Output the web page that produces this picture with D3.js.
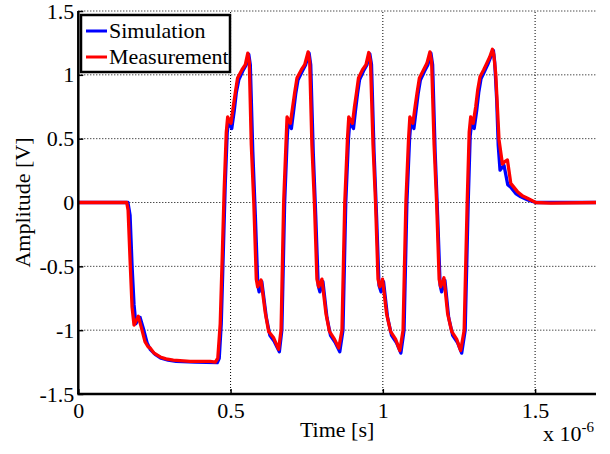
<!DOCTYPE html>
<html>
<head>
<meta charset="utf-8">
<script src="https://cdn.jsdelivr.net/npm/d3@7"></script>
<style>
  body { margin: 0; background: #fff; }
  svg text { font-family: "Liberation Serif", "Times New Roman", serif; fill: #000; }
</style>
</head>
<body>
<svg id="grafico"></svg>
<script>
// dados: [tempo em us, amplitude em V]
const simulacao = [
  [0, 0], [0.163, 0], [0.170, -0.1], [0.1766, -0.5], [0.183, -0.8], [0.189, -0.95],
  [0.1964, -0.92], [0.2029, -0.9], [0.2128, -0.98], [0.226, -1.1], [0.2359, -1.15],
  [0.2523, -1.19], [0.272, -1.22], [0.2951, -1.235], [0.3214, -1.245], [0.3839, -1.25],
  [0.4563, -1.255], [0.4628, -1.22], [0.4694, -0.95], [0.476, -0.4], [0.4826, 0.15],
  [0.4891, 0.55], [0.4934, 0.64], [0.5039, 0.58], [0.5122, 0.72], [0.5188, 0.86],
  [0.527, 0.96], [0.5401, 1.03], [0.5516, 1.08], [0.5599, 1.16], [0.5648, 1.08],
  [0.573, 0.4], [0.5813, -0.1], [0.5895, -0.65], [0.5938, -0.7], [0.6026, -0.62],
  [0.6174, -0.9], [0.6289, -1.04], [0.6438, -1.09], [0.6602, -1.17], [0.6684, -1.0],
  [0.6776, 0.0], [0.6859, 0.5], [0.6891, 0.63], [0.6997, 0.58], [0.7072, 0.72],
  [0.7138, 0.85], [0.7214, 0.96], [0.7359, 1.03], [0.7467, 1.08], [0.7579, 1.17],
  [0.7632, 1.08], [0.7714, 0.4], [0.7796, -0.1], [0.7878, -0.65], [0.7934, -0.7],
  [0.8033, -0.62], [0.8164, -0.9], [0.828, -1.04], [0.8444, -1.1], [0.8586, -1.17],
  [0.8691, -1.0], [0.8783, 0.0], [0.8872, 0.5], [0.8914, 0.63], [0.9036, 0.58],
  [0.9102, 0.72], [0.9168, 0.85], [0.9234, 0.96], [0.9365, 1.03], [0.948, 1.08],
  [0.9572, 1.165], [0.9628, 1.08], [0.9711, 0.4], [0.9793, -0.1], [0.9875, -0.65],
  [0.9941, -0.7], [1.0023, -0.62], [1.0155, -0.9], [1.0286, -1.04], [1.0451, -1.1],
  [1.0592, -1.18], [1.0697, -1.0], [1.079, 0.0], [1.0878, 0.5], [1.0921, 0.63],
  [1.102, 0.58], [1.1092, 0.72], [1.1158, 0.85], [1.1234, 0.96], [1.1372, 1.03],
  [1.148, 1.08], [1.1579, 1.17], [1.1635, 1.08], [1.1717, 0.4], [1.1799, -0.1],
  [1.1882, -0.65], [1.1931, -0.7], [1.2039, -0.61], [1.2161, -0.9], [1.2293, -1.04],
  [1.2457, -1.1], [1.2589, -1.18], [1.2704, -1.0], [1.2803, 0.0], [1.2868, 0.52],
  [1.2918, 0.63], [1.3, 0.58], [1.3082, 0.72], [1.3148, 0.86], [1.3224, 0.97],
  [1.3345, 1.03], [1.3444, 1.08], [1.3543, 1.14], [1.3632, 1.19], [1.3674, 1.1],
  [1.374, 0.8], [1.3789, 0.45], [1.3849, 0.254], [1.3905, 0.27], [1.398, 0.29],
  [1.4102, 0.14], [1.4201, 0.12], [1.4365, 0.07], [1.453, 0.045], [1.476, 0.02],
  [1.5023, 0.0], [1.7, 0.0]
];

const medicao = [
  [0, 0], [0.159, 0], [0.1635, -0.06], [0.170, -0.45], [0.1766, -0.82], [0.183, -0.96],
  [0.189, -0.93], [0.197, -0.89], [0.206, -0.97], [0.219, -1.09], [0.229, -1.13],
  [0.236, -1.14], [0.249, -1.18], [0.269, -1.21], [0.288, -1.225], [0.312, -1.235],
  [0.367, -1.245], [0.433, -1.245], [0.450, -1.25], [0.458, -1.22], [0.466, -0.95],
  [0.4727, -0.42], [0.479, 0.1], [0.4859, 0.55], [0.4905, 0.67], [0.5013, 0.62],
  [0.5089, 0.75], [0.5155, 0.86], [0.523, 0.975], [0.5375, 1.04], [0.5484, 1.08],
  [0.5566, 1.17], [0.5615, 1.1], [0.5681, 0.45], [0.5763, 0.0], [0.5845, -0.6],
  [0.5888, -0.66], [0.6, -0.607], [0.6141, -0.866], [0.625, -1.01], [0.6414, -1.06],
  [0.6579, -1.15], [0.6658, -1.0], [0.6743, 0.0], [0.6826, 0.5], [0.6855, 0.67],
  [0.6964, 0.62], [0.704, 0.75], [0.7105, 0.86], [0.7181, 0.975], [0.7326, 1.04],
  [0.7434, 1.08], [0.7546, 1.18], [0.7599, 1.1], [0.7671, 0.45], [0.7753, 0.0],
  [0.7836, -0.6], [0.7895, -0.66], [0.8, -0.6], [0.8132, -0.87], [0.8247, -1.01],
  [0.8411, -1.07], [0.8553, -1.14], [0.8658, -1.0], [0.875, 0.0], [0.8839, 0.5],
  [0.8882, 0.67], [0.9003, 0.62], [0.9069, 0.75], [0.9135, 0.86], [0.9201, 0.975],
  [0.9332, 1.04], [0.9447, 1.08], [0.9539, 1.175], [0.9595, 1.1], [0.9678, 0.45],
  [0.976, 0.0], [0.9842, -0.6], [0.9901, -0.66], [0.999, -0.6], [1.0122, -0.87],
  [1.0253, -1.01], [1.0418, -1.07], [1.0559, -1.16], [1.0664, -1.0], [1.0757, 0.0],
  [1.0845, 0.5], [1.0888, 0.67], [1.0987, 0.62], [1.1059, 0.75], [1.1125, 0.86],
  [1.1201, 0.975], [1.1339, 1.04], [1.1447, 1.09], [1.1546, 1.18], [1.1602, 1.1],
  [1.1684, 0.45], [1.1766, 0.0], [1.1849, -0.6], [1.1898, -0.66], [1.2007, -0.59],
  [1.2128, -0.87], [1.226, -1.01], [1.2424, -1.07], [1.2556, -1.16], [1.2671, -1.0],
  [1.277, 0.0], [1.2836, 0.55], [1.2885, 0.67], [1.2967, 0.62], [1.305, 0.75],
  [1.3115, 0.88], [1.3191, 0.985], [1.3313, 1.04], [1.3411, 1.09], [1.351, 1.14],
  [1.3599, 1.2], [1.3641, 1.16], [1.3707, 1.01], [1.3816, 0.49], [1.3928, 0.3],
  [1.4003, 0.32], [1.4092, 0.333], [1.4201, 0.15], [1.4421, 0.085], [1.4595, 0.05],
  [1.475, 0.033], [1.5023, 0.0], [1.5516, -0.005], [1.7, 0.0]
];

const series = ["Simulation", "Measurement"];
const cores = ["#0000ff", "#ff0000"];

const x_ticks = [0, 0.5, 1, 1.5];              // em 10^-6 s
const y_ticks = [-1.5, -1, -0.5, 0, 0.5, 1, 1.5];
const x_dominio = [0, 1.7];
const y_dominio = [-1.5, 1.5];

// dimensoes
const w = 610, h = 454;
const PAD = { left: 78.3, right: 14, top: 11, bottom: 60 };

const $svg = d3.select("#grafico")
  .attr("width", w)
  .attr("height", h);

const scale_x = d3.scaleLinear()
  .domain(x_dominio)
  .range([PAD.left, w - PAD.right]);

const scale_y = d3.scaleLinear()
  .domain(y_dominio)
  .range([h - PAD.bottom, PAD.top]);

const FONTE = 22;

// grade pontilhada
$svg.append("g")
  .selectAll("line.grade-y")
  .data(y_ticks.filter(d => d > y_dominio[0]))
  .enter()
  .append("line")
  .attr("x1", scale_x(x_dominio[0]))
  .attr("x2", scale_x(x_dominio[1]))
  .attr("y1", d => scale_y(d))
  .attr("y2", d => scale_y(d))
  .attr("stroke", "#000")
  .attr("stroke-width", 1)
  .attr("stroke-dasharray", "1,2");

$svg.append("g")
  .selectAll("line.grade-x")
  .data(x_ticks.filter(d => d > x_dominio[0]))
  .enter()
  .append("line")
  .attr("x1", d => scale_x(d))
  .attr("x2", d => scale_x(d))
  .attr("y1", scale_y(y_dominio[0]))
  .attr("y2", scale_y(y_dominio[1]))
  .attr("stroke", "#000")
  .attr("stroke-width", 1)
  .attr("stroke-dasharray", "1,2");

// eixos
const eixo_x = d3.axisBottom(scale_x)
  .tickValues(x_ticks)
  .tickFormat(d => String(d))
  .tickSize(-5)
  .tickPadding(8);

const eixo_y = d3.axisLeft(scale_y)
  .tickValues(y_ticks)
  .tickFormat(d => String(d))
  .tickSize(-5)
  .tickPadding(4);

const $eixo_x = $svg.append("g")
  .attr("transform", `translate(0,${scale_y(y_dominio[0])})`)
  .call(eixo_x);

const $eixo_y = $svg.append("g")
  .attr("transform", `translate(${scale_x(x_dominio[0])},0)`)
  .call(eixo_y);

[$eixo_x, $eixo_y].forEach($e => {
  $e.select(".domain").remove();
  $e.selectAll(".tick line").attr("stroke", "#000").attr("stroke-width", 1.5);
  $e.selectAll(".tick text")
    .style("font-family", '"Liberation Serif", serif')
    .style("font-size", FONTE + "px")
    .attr("fill", "#000");
});

// linhas das series
$svg.append("clipPath").attr("id", "area")
  .append("rect")
  .attr("x", scale_x(x_dominio[0]))
  .attr("y", scale_y(y_dominio[1]) - 2)
  .attr("width", scale_x(x_dominio[1]) - scale_x(x_dominio[0]))
  .attr("height", scale_y(y_dominio[0]) - scale_y(y_dominio[1]) + 2);

const linha = d3.line()
  .x(d => scale_x(d[0]))
  .y(d => scale_y(d[1]));

$svg.append("g")
  .attr("clip-path", "url(#area)")
  .selectAll("path")
  .data([simulacao, medicao])
  .enter()
  .append("path")
  .attr("d", linha)
  .attr("fill", "none")
  .attr("stroke", (d, i) => cores[i])
  .attr("stroke-width", 3.3)
  .attr("stroke-linejoin", "round");

// eixo esquerdo e de baixo (sem caixa)
$svg.append("line")
  .attr("x1", scale_x(x_dominio[0]))
  .attr("x2", scale_x(x_dominio[0]))
  .attr("y1", scale_y(y_dominio[0]))
  .attr("y2", scale_y(y_dominio[1]))
  .attr("stroke", "#000")
  .attr("stroke-width", 2.5);

$svg.append("line")
  .attr("x1", scale_x(x_dominio[0]) - 1)
  .attr("x2", scale_x(x_dominio[1]))
  .attr("y1", scale_y(y_dominio[0]))
  .attr("y2", scale_y(y_dominio[0]))
  .attr("stroke", "#000")
  .attr("stroke-width", 2.5);

// rotulos
$svg.append("text")
  .attr("x", (scale_x(x_dominio[0]) + scale_x(x_dominio[1])) / 2)
  .attr("y", 437)
  .attr("text-anchor", "middle")
  .style("font-size", FONTE + "px")
  .text("Time [s]");

$svg.append("text")
  .attr("transform", `translate(30,${(scale_y(y_dominio[0]) + scale_y(y_dominio[1])) / 2}) rotate(-90)`)
  .attr("text-anchor", "middle")
  .style("font-size", FONTE + "px")
  .text("Amplitude [V]");

const $mult = $svg.append("text")
  .attr("x", 543)
  .attr("y", 441)
  .style("font-size", FONTE + "px");
$mult.append("tspan").text("x 10");
$mult.append("tspan")
  .attr("dy", -9)
  .style("font-size", "15px")
  .text("-6");

// legenda
const $leg = $svg.append("g").attr("transform", "translate(81,15)");

$leg.append("rect")
  .attr("width", 149)
  .attr("height", 57)
  .attr("fill", "#fff")
  .attr("stroke", "#000")
  .attr("stroke-width", 2.5);

const $itens = $leg.selectAll("g.item")
  .data(series)
  .enter()
  .append("g")
  .attr("transform", (d, i) => `translate(0,${16 + i * 26})`);

$itens.append("line")
  .attr("x1", 5)
  .attr("x2", 26)
  .attr("stroke", (d, i) => cores[i])
  .attr("stroke-width", 3);

$itens.append("text")
  .attr("x", 28)
  .attr("y", 7)
  .style("font-size", FONTE + "px")
  .text(d => d);
</script>
</body>
</html>
